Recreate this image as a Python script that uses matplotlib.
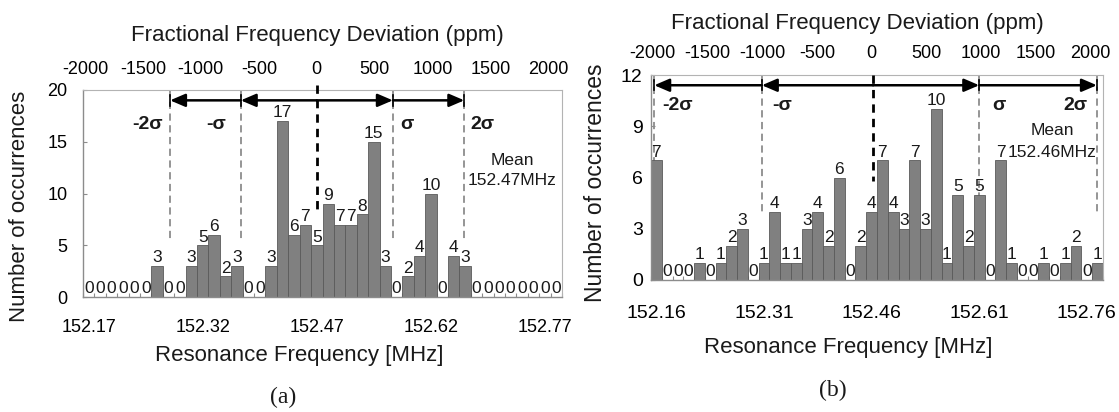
import matplotlib.pyplot as plt
import numpy as np

plt.rcParams['font.family'] = ['Liberation Sans', 'DejaVu Sans']
plt.rcParams['text.color'] = '#1a1a1a'
plt.rcParams['axes.unicode_minus'] = False

W, H = 1119, 412          # output size in pixels

# ---------- data ----------
bin_width = 0.015         # MHz per histogram bin
ppm_ticks = [-2000, -1500, -1000, -500, 0, 500, 1000, 1500, 2000]

# (a)
first_bin_a = 152.17
counts_a = [0, 0, 0, 0, 0, 0, 3, 0, 0, 3, 5, 6, 2, 3, 0, 0, 3, 17, 6, 7, 5,
            9, 7, 7, 8, 15, 3, 0, 2, 4, 10, 0, 4, 3, 0, 0, 0, 0, 0, 0, 0, 0]
xlabels_a = ['152.17', '152.32', '152.47', '152.62', '152.77']
mean_a = 152.47
sigma_lines_a = [152.277, 152.370, 152.470, 152.570, 152.664]   # -2σ, -σ, mean, σ, 2σ

# (b)
first_bin_b = 152.16
counts_b = [7, 0, 0, 0, 1, 0, 1, 2, 3, 0, 1, 4, 1, 1, 3, 4, 2, 6, 0, 2, 4,
            7, 4, 3, 7, 3, 10, 1, 5, 2, 5, 0, 7, 1, 0, 0, 1, 0, 1, 2, 0, 1]
xlabels_b = ['152.16', '152.31', '152.46', '152.61', '152.76']
mean_b = 152.46
sigma_lines_b = [152.157, 152.307, 152.462, 152.610, 152.774]

BAR = '#808080'
EDGE = '#5a5a5a'
GRID = '#8c8c8c'


def px(x, y):
    return x / W, 1 - y / H


def panel(fig, rect, first_bin, counts, xlabels, mean, lines, ymax, yticks,
          arrow_y, tick_half, black_range, gray_bottom, fs_tick, fs_top,
          fs_bar, xpad, ypad, toppad):
    ax = fig.add_axes(rect)
    centers = first_bin + bin_width * np.arange(len(counts))
    bars = ax.bar(centers, counts, width=bin_width, color=BAR,
                  edgecolor=EDGE, linewidth=0.6, zorder=2)
    ax.bar_label(bars, padding=0.5, fontsize=fs_bar)
    ax.set_xlim(centers[0] - bin_width / 2, centers[-1] + bin_width / 2)
    ax.set_ylim(0, ymax)
    ax.set_axisbelow(True)

    ax.set_xticks(centers[::10])
    ax.set_xticklabels(xlabels)
    ax.set_xticks(np.append(centers - bin_width / 2, centers[-1] + bin_width / 2),
                  minor=True)
    ax.tick_params(axis='x', which='major', length=0, pad=xpad, labelsize=fs_tick)
    ax.tick_params(axis='x', which='minor', direction='in', length=3,
                   color=GRID, width=0.8)
    ax.set_yticks(yticks)
    ax.tick_params(axis='y', direction='in', length=3, color=GRID,
                   pad=ypad, labelsize=fs_tick)
    for s in ['top', 'right']:
        ax.spines[s].set_color('#b3b3b3')
        ax.spines[s].set_linewidth(0.8)
    for s in ['left', 'bottom']:
        ax.spines[s].set_color(GRID)
        ax.spines[s].set_linewidth(1.0)

    # ppm axis on top
    sec = ax.secondary_xaxis('top', functions=(
        lambda f: (f - mean) / mean * 1e6, lambda p: mean + p * mean / 1e6))
    sec.set_xticks(ppm_ticks)
    sec.tick_params(length=0, pad=toppad, labelsize=fs_top)
    sec.spines['top'].set_visible(False)

    # sigma guide lines
    for i in [0, 1, 3, 4]:
        ax.plot([lines[i], lines[i]], [ymax, gray_bottom], color='#8c8c8c',
                lw=1.3, ls=(0, (4, 2.5)), zorder=1)
    ax.plot([lines[2], lines[2]], black_range, color='black', lw=2.0,
            ls=(0, (3, 2.2)), zorder=3, clip_on=False)

    # arrows between sigma lines
    aprops = dict(arrowstyle='-|>,head_length=0.7,head_width=0.3',
                  color='black', lw=1.8, mutation_scale=13,
                  shrinkA=0, shrinkB=0)
    for tail, head in [(1, 0), (2, 1), (2, 3), (3, 4)]:
        ax.annotate('', xy=(lines[head], arrow_y), xytext=(lines[tail], arrow_y),
                    arrowprops=aprops, zorder=4)
    for i in [0, 1, 3, 4]:
        ax.plot([lines[i], lines[i]], [arrow_y - tick_half, arrow_y + tick_half],
                color='black', lw=1.2, zorder=4)
    return ax


fig = plt.figure(figsize=(W / 100, H / 100), dpi=100)

# ---------- (a) ----------
ax_a = panel(fig, [83 / W, 1 - 297 / H, 479 / W, 207 / H], first_bin_a, counts_a,
             xlabels_a, mean_a, sigma_lines_a, 20, [0, 5, 10, 15, 20],
             arrow_y=19.0, tick_half=0.5, black_range=[20.5, 8.2],
             gray_bottom=5.3, fs_tick=13, fs_top=13, fs_bar=12.5,
             xpad=16, ypad=11, toppad=8.5)
kw = dict(fontsize=14, fontweight='bold', va='center')
ax_a.text(152.2677, 16.7, '-2σ', ha='right', **kw)
ax_a.text(152.3374, 16.7, '-σ', ha='center', **kw)
ax_a.text(152.5794, 16.7, 'σ', ha='left', **kw)
ax_a.text(152.6715, 16.7, '2σ', ha='left', **kw)
ax_a.text(152.7267, 13.2, 'Mean', ha='center', va='center', fontsize=12.5)
ax_a.text(152.7267, 11.3, '152.47MHz', ha='center', va='center', fontsize=12.5)

# ---------- (b) ----------
ax_b = panel(fig, [651 / W, 1 - 280 / H, 452 / W, 205 / H], first_bin_b, counts_b,
             xlabels_b, mean_b, sigma_lines_b, 12, [0, 3, 6, 9, 12],
             arrow_y=11.4, tick_half=0.3, black_range=[12, 5.8],
             gray_bottom=3.8, fs_tick=14, fs_top=13, fs_bar=12.5,
             xpad=18, ypad=6, toppad=9.5)
ax_b.text(152.1678, 10.24, '-2σ', ha='left', **kw)
ax_b.text(152.3212, 10.24, '-σ', ha='left', **kw)
ax_b.text(152.6278, 10.24, 'σ', ha='left', **kw)
ax_b.text(152.7602, 10.24, '2σ', ha='right', **kw)
ax_b.text(152.7114, 8.78, 'Mean', ha='center', va='center', fontsize=12.5)
ax_b.text(152.7114, 7.49, '152.46MHz', ha='center', va='center', fontsize=12.5)

# ---------- axis titles ----------
lab = dict(ha='center', va='center', fontsize=16)
fig.text(*px(317.5, 35), 'Fractional Frequency Deviation (ppm)', **lab)
fig.text(*px(857.5, 23), 'Fractional Frequency Deviation (ppm)', **lab)
fig.text(*px(299, 355), 'Resonance Frequency [MHz]', **lab)
fig.text(*px(848, 347), 'Resonance Frequency [MHz]', **lab)
fig.text(*px(20, 206), 'Number of occurrences', rotation=90, **lab)
fig.text(*px(596, 183), 'Number of occurrences', rotation=90,
         ha='center', va='center', fontsize=16.5)

serif = dict(ha='center', va='center', fontsize=17, family='Liberation Serif')
fig.text(*px(283, 397), '(a)', **serif)
fig.text(*px(833, 390), '(b)', **serif)

fig.savefig('out.png', dpi=100)
